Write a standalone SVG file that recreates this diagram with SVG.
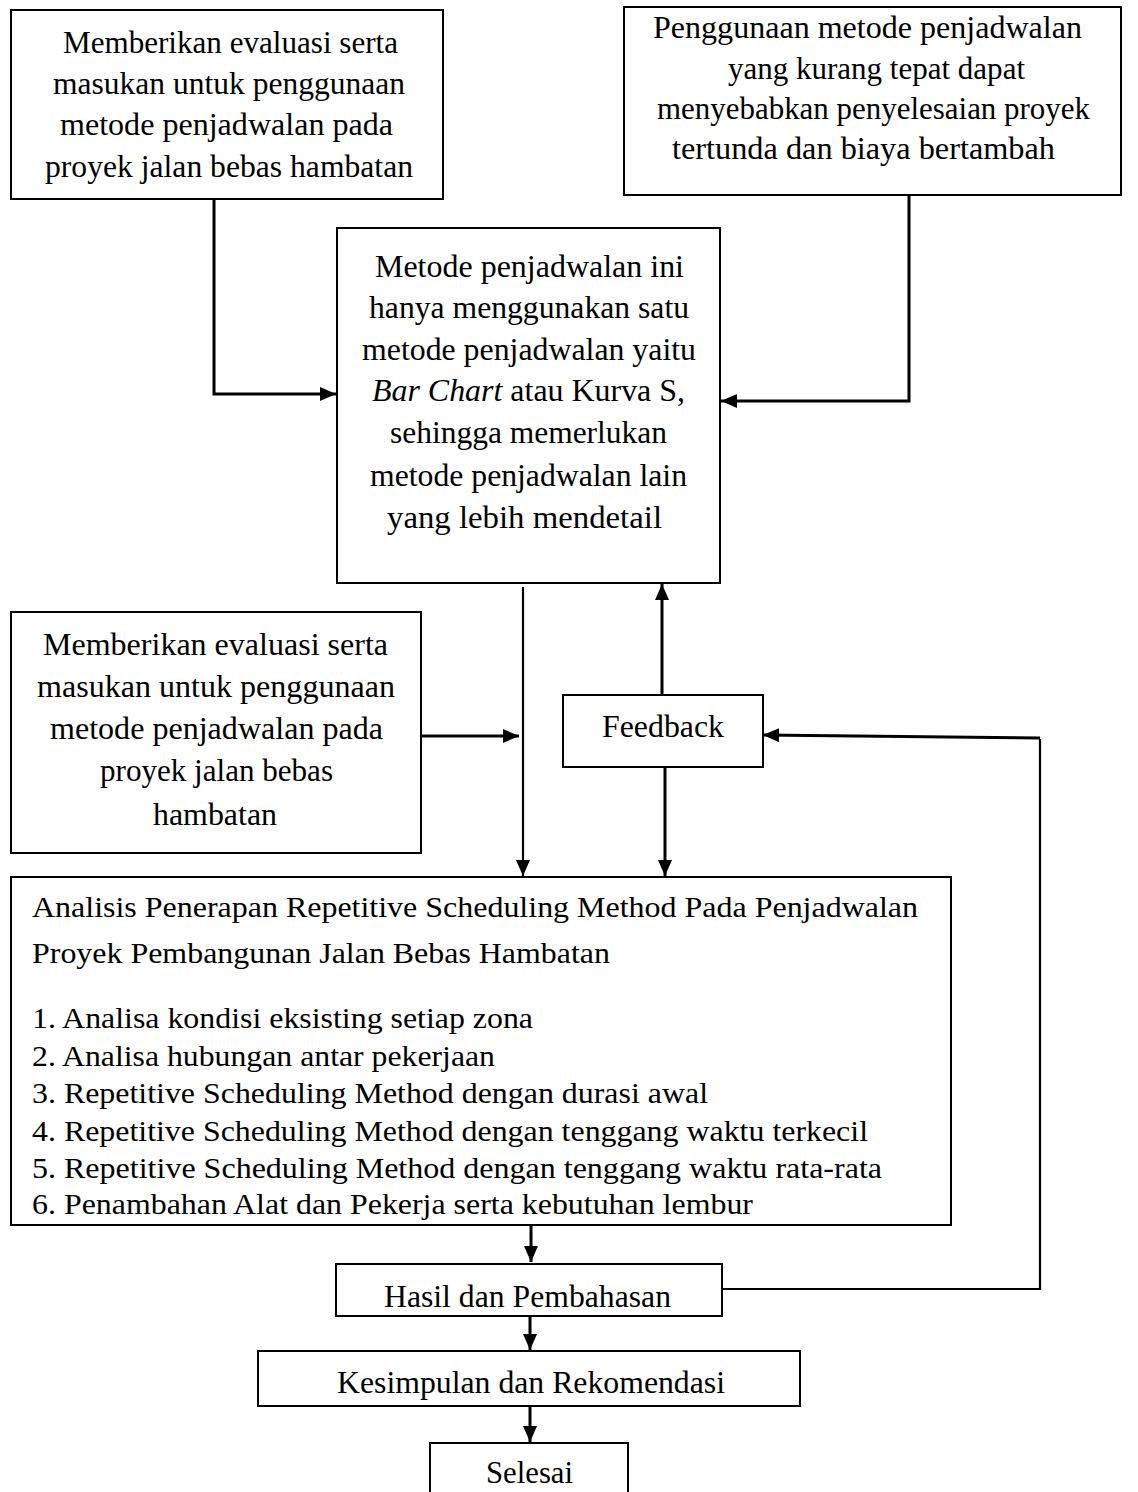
<svg xmlns="http://www.w3.org/2000/svg" width="1138" height="1492" viewBox="0 0 1138 1492">
<style>
.box{fill:#fff;stroke:#000;stroke-width:2}
.t{font-family:'Liberation Serif','Times New Roman',Times,serif;font-size:32px;fill:#000}
.s{font-size:29px}
.c{fill:none;stroke:#000;stroke-width:3}
.c2{fill:none;stroke:#000;stroke-width:2.2}
</style>
<defs>
<marker id="ah" markerUnits="userSpaceOnUse" markerWidth="17" markerHeight="15" refX="16" refY="7" orient="auto">
<path d="M0,0 L16,7 L0,14 Z" fill="#000"/>
</marker>
</defs>
<rect width="1138" height="1492" fill="#fff"/>

<g id="connectors">
<path class="c" d="M214,199 V394 H336" marker-end="url(#ah)"/>
<path class="c" d="M909,195 V401 H721" marker-end="url(#ah)"/>
<path class="c2" d="M523,587 V876" marker-end="url(#ah)"/>
<path class="c" d="M662,695 V584" marker-end="url(#ah)"/>
<path class="c" d="M421,736 H519" marker-end="url(#ah)"/>
<path class="c" d="M665,767 V876" marker-end="url(#ah)"/>
<path class="c2" d="M722,1289 H1040 V739"/>
<path class="c" d="M1040,738 L763,735" marker-end="url(#ah)"/>
<path class="c" d="M531,1225 V1262" marker-end="url(#ah)"/>
<path class="c" d="M530,1316 V1350" marker-end="url(#ah)"/>
<path class="c" d="M530,1406 V1442" marker-end="url(#ah)"/>
</g>

<g id="node-evaluasi-top">
<rect class="box" x="11" y="10" width="432" height="189"/>
<text class="t" x="63" y="53" textLength="335" lengthAdjust="spacingAndGlyphs">Memberikan evaluasi serta</text>
<text class="t" x="53" y="94" textLength="352" lengthAdjust="spacingAndGlyphs">masukan untuk penggunaan</text>
<text class="t" x="60" y="135" textLength="333" lengthAdjust="spacingAndGlyphs">metode penjadwalan pada</text>
<text class="t" x="45" y="177" textLength="368" lengthAdjust="spacingAndGlyphs">proyek jalan bebas hambatan</text>
</g>

<g id="node-masalah">
<rect class="box" x="624" y="7" width="497" height="188"/>
<text class="t" x="653" y="38" textLength="429" lengthAdjust="spacingAndGlyphs">Penggunaan metode penjadwalan</text>
<text class="t" x="728" y="79" textLength="297" lengthAdjust="spacingAndGlyphs">yang kurang tepat dapat</text>
<text class="t" x="657" y="119" textLength="433" lengthAdjust="spacingAndGlyphs">menyebabkan penyelesaian proyek</text>
<text class="t" x="672" y="159" textLength="383" lengthAdjust="spacingAndGlyphs">tertunda dan biaya bertambah</text>
</g>

<g id="node-metode">
<rect class="box" x="337" y="228" width="383" height="355"/>
<text class="t" x="375" y="277" textLength="309" lengthAdjust="spacingAndGlyphs">Metode penjadwalan ini</text>
<text class="t" x="369" y="318" textLength="320" lengthAdjust="spacingAndGlyphs">hanya menggunakan satu</text>
<text class="t" x="362" y="360" textLength="334" lengthAdjust="spacingAndGlyphs">metode penjadwalan yaitu</text>
<text class="t" x="372" y="401" textLength="313" lengthAdjust="spacingAndGlyphs"><tspan font-style="italic">Bar Chart</tspan> atau Kurva S,</text>
<text class="t" x="390" y="443" textLength="277" lengthAdjust="spacingAndGlyphs">sehingga memerlukan</text>
<text class="t" x="370" y="486" textLength="317" lengthAdjust="spacingAndGlyphs">metode penjadwalan lain</text>
<text class="t" x="387" y="528" textLength="275" lengthAdjust="spacingAndGlyphs">yang lebih mendetail</text>
</g>

<g id="node-evaluasi-mid">
<rect class="box" x="11" y="612" width="410" height="241"/>
<text class="t" x="43" y="655" textLength="345" lengthAdjust="spacingAndGlyphs">Memberikan evaluasi serta</text>
<text class="t" x="37" y="697" textLength="358" lengthAdjust="spacingAndGlyphs">masukan untuk penggunaan</text>
<text class="t" x="50" y="739" textLength="333" lengthAdjust="spacingAndGlyphs">metode penjadwalan pada</text>
<text class="t" x="100" y="781" textLength="233" lengthAdjust="spacingAndGlyphs">proyek jalan bebas</text>
<text class="t" x="153" y="825" textLength="124" lengthAdjust="spacingAndGlyphs">hambatan</text>
</g>

<g id="node-feedback">
<rect class="box" x="563" y="695" width="200" height="72"/>
<text class="t" x="602" y="737" textLength="122" lengthAdjust="spacingAndGlyphs">Feedback</text>
</g>

<g id="node-analisis">
<rect class="box" x="11" y="877" width="940" height="348"/>
<text class="t s" x="32" y="917" textLength="886" lengthAdjust="spacingAndGlyphs">Analisis Penerapan Repetitive Scheduling Method Pada Penjadwalan</text>
<text class="t s" x="32" y="963" textLength="578" lengthAdjust="spacingAndGlyphs">Proyek Pembangunan Jalan Bebas Hambatan</text>
<text class="t s" x="32" y="1028" textLength="501" lengthAdjust="spacingAndGlyphs">1. Analisa kondisi eksisting setiap zona</text>
<text class="t s" x="32" y="1066" textLength="463" lengthAdjust="spacingAndGlyphs">2. Analisa hubungan antar pekerjaan</text>
<text class="t s" x="32" y="1103" textLength="676" lengthAdjust="spacingAndGlyphs">3. Repetitive Scheduling Method dengan durasi awal</text>
<text class="t s" x="32" y="1141" textLength="836" lengthAdjust="spacingAndGlyphs">4. Repetitive Scheduling Method dengan tenggang waktu terkecil</text>
<text class="t s" x="32" y="1178" textLength="850" lengthAdjust="spacingAndGlyphs">5. Repetitive Scheduling Method dengan tenggang waktu rata-rata</text>
<text class="t s" x="32" y="1214" textLength="721" lengthAdjust="spacingAndGlyphs">6. Penambahan Alat dan Pekerja serta kebutuhan lembur</text>
</g>

<g id="node-hasil">
<rect class="box" x="336" y="1264" width="386" height="52"/>
<text class="t" x="384" y="1307" textLength="287" lengthAdjust="spacingAndGlyphs">Hasil dan Pembahasan</text>
</g>

<g id="node-kesimpulan">
<rect class="box" x="258" y="1351" width="542" height="55"/>
<text class="t" x="337" y="1393" textLength="388" lengthAdjust="spacingAndGlyphs">Kesimpulan dan Rekomendasi</text>
</g>

<g id="node-selesai">
<rect class="box" x="430" y="1443" width="198" height="60"/>
<text class="t" x="486" y="1483" textLength="87" lengthAdjust="spacingAndGlyphs">Selesai</text>
</g>
</svg>
